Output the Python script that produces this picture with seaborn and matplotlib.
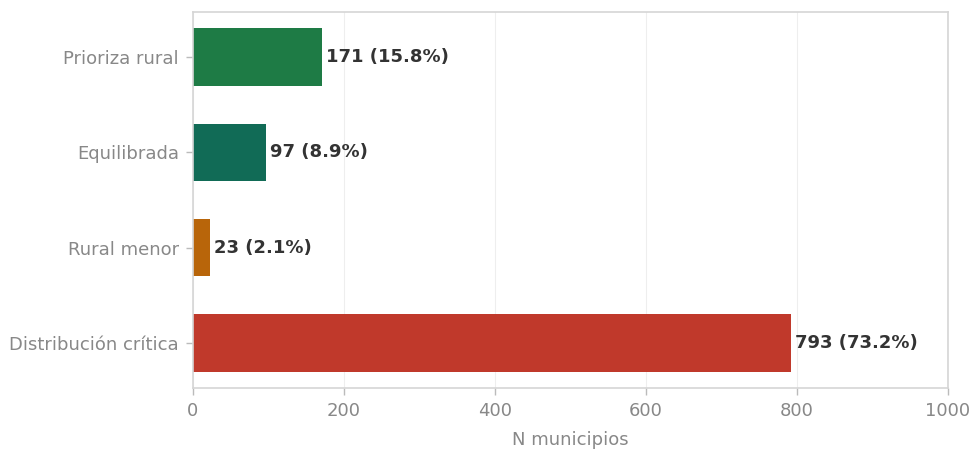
import pandas as pd
import seaborn as sns
import matplotlib.pyplot as plt

categorias = ['Prioriza rural', 'Equilibrada', 'Rural menor', 'Distribución crítica']
municipios = [171, 97, 23, 793]
porcentajes = [15.8, 8.9, 2.1, 73.2]
colores = ['#1e7b45', '#116b56', '#b8650a', '#c0392b']

df = pd.DataFrame({'Tipo': categorias, 'N': municipios})

sns.set_style('whitegrid')
plt.rcParams['font.family'] = ['DejaVu Sans']

fig = plt.figure(figsize=(9.73, 4.49), dpi=100)
ax = fig.add_axes([0.198, 0.136, 0.776, 0.837])

sns.barplot(data=df, y='Tipo', x='N', hue='Tipo', palette=colores,
            saturation=1, width=0.6, legend=False, ax=ax, edgecolor='none')

for i, (n, p) in enumerate(zip(municipios, porcentajes)):
    ax.text(n + 5, i, f'{n} ({p}%)', va='center', ha='left',
            fontsize=13, fontweight='bold', color='#333333')

ax.set_xlim(0, 1000)
ax.set_ylim(3.47, -0.47)
ax.set_xticks([0, 200, 400, 600, 800, 1000])
ax.set_xlabel('N municipios', fontsize=13, color='#888888', labelpad=8)
ax.set_ylabel('')
ax.tick_params(axis='both', labelsize=13, labelcolor='#888888',
               length=5, color='#bbbbbb', width=1, pad=5,
               bottom=True, left=True)
ax.grid(axis='x', color='#eeeeee', linewidth=0.8)
ax.grid(axis='y', visible=False)
for s in ax.spines.values():
    s.set_color('#d5d5d5')
    s.set_linewidth(1.2)

fig.savefig('out.png', dpi=100)
